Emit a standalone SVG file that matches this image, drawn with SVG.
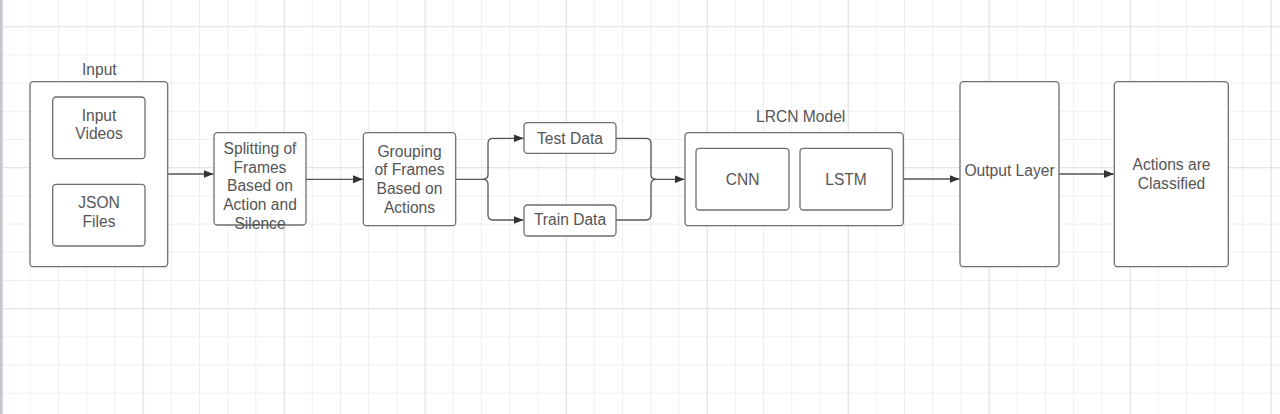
<svg xmlns="http://www.w3.org/2000/svg" width="1280" height="414" viewBox="0 0 1280 414">
<style>
.box{fill:#ffffff;stroke:#6e6e6e;stroke-width:1.3}
.t{font-family:"Liberation Sans",Arial,sans-serif;font-size:15.6px;fill:#555555;text-anchor:middle}
.c{fill:none;stroke:#555555;stroke-width:1.3}
</style>
<defs>
<pattern id="minor" patternUnits="userSpaceOnUse" x="1.6" y="-2" width="28.2" height="28.2">
<path d="M0.5 0 V28.2 M0 0.5 H28.2" stroke="#eeeeee" stroke-width="1" fill="none"/>
</pattern>
<pattern id="major" patternUnits="userSpaceOnUse" x="1.8" y="26.2" width="141" height="141">
<path d="M0.5 0 V141 M0 0.5 H141" stroke="#e2e2e2" stroke-width="1.2" fill="none"/>
</pattern>
<marker id="arr" viewBox="0 0 10 8" refX="10" refY="4" markerWidth="10" markerHeight="8" markerUnits="userSpaceOnUse" orient="auto">
<path d="M0 0 L10 4 L0 8 Z" fill="#333333"/>
</marker>
</defs>
<rect width="1280" height="414" fill="#ffffff"/>
<rect width="1280" height="414" fill="url(#minor)"/>
<rect width="1280" height="414" fill="url(#major)"/>
<rect x="0" y="0" width="2.5" height="414" fill="#c4c8cc"/>

<g id="connectors">
<path class="c" d="M168 174 H213.5" marker-end="url(#arr)"/>
<path class="c" d="M306 179.3 H363" marker-end="url(#arr)"/>
<path class="c" d="M455.7 179.3 H483 Q488 179.3 488 174.3 V143.3 Q488 138.3 493 138.3 H523.5" marker-end="url(#arr)"/>
<path class="c" d="M483 179.3 Q488 179.3 488 184.3 V215 Q488 220 493 220 H523.5" marker-end="url(#arr)"/>
<path class="c" d="M616 138.3 H646 Q651 138.3 651 143.3 V174.3 Q651 179.3 656 179.3 H684.5" marker-end="url(#arr)"/>
<path class="c" d="M616 220 H646 Q651 220 651 215 V184.3 Q651 179.3 656 179.3"/>
<path class="c" d="M903.3 179 H959.5" marker-end="url(#arr)"/>
<path class="c" d="M1059 174 H1113.8" marker-end="url(#arr)"/>
</g>

<g id="input">
<rect class="box" x="30" y="81.7" width="137.7" height="185" rx="3.5"/>
<text class="t" x="99.3" y="75.3">Input</text>
</g>
<g id="input-videos">
<rect class="box" x="52.7" y="97" width="92.3" height="61.7" rx="3.5"/>
<text class="t" x="99" y="120.7">Input</text>
<text class="t" x="99" y="139.4">Videos</text>
</g>
<g id="json-files">
<rect class="box" x="52.7" y="184.3" width="92.3" height="61.7" rx="3.5"/>
<text class="t" x="99" y="208.3">JSON</text>
<text class="t" x="99" y="227">Files</text>
</g>
<g id="splitting">
<rect class="box" x="214" y="132.7" width="92" height="92.3" rx="3.5"/>
<text class="t" x="260" y="154">Splitting of</text>
<text class="t" x="260" y="172.7">Frames</text>
<text class="t" x="260" y="191.4">Based on</text>
<text class="t" x="260" y="210.1">Action and</text>
<text class="t" x="260" y="228.8">Silence</text>
</g>
<g id="grouping">
<rect class="box" x="363.3" y="132.7" width="92.4" height="93" rx="3.5"/>
<text class="t" x="409.5" y="156.7">Grouping</text>
<text class="t" x="409.5" y="175.4">of Frames</text>
<text class="t" x="409.5" y="194.1">Based on</text>
<text class="t" x="409.5" y="212.8">Actions</text>
</g>
<g id="test-data">
<rect class="box" x="524" y="122.7" width="92" height="30.6" rx="3.5"/>
<text class="t" x="570" y="143.5">Test Data</text>
</g>
<g id="train-data">
<rect class="box" x="524" y="205" width="92" height="31" rx="3.5"/>
<text class="t" x="570" y="225">Train Data</text>
</g>
<g id="lrcn">
<rect class="box" x="685" y="132.7" width="218.3" height="93" rx="3.5"/>
<text class="t" x="800.7" y="121.7">LRCN Model</text>
</g>
<g id="cnn">
<rect class="box" x="696" y="148.3" width="93" height="61.7" rx="3.5"/>
<text class="t" x="742.7" y="184.5">CNN</text>
</g>
<g id="lstm">
<rect class="box" x="800" y="148.3" width="92.3" height="61.7" rx="3.5"/>
<text class="t" x="846" y="184.5">LSTM</text>
</g>
<g id="output-layer">
<rect class="box" x="960" y="81.7" width="99" height="185" rx="3.5"/>
<text class="t" x="1009.5" y="176">Output Layer</text>
</g>
<g id="classified">
<rect class="box" x="1114.3" y="81.7" width="114" height="185" rx="3.5"/>
<text class="t" x="1171.5" y="170">Actions are</text>
<text class="t" x="1171.5" y="188.7">Classified</text>
</g>
</svg>
